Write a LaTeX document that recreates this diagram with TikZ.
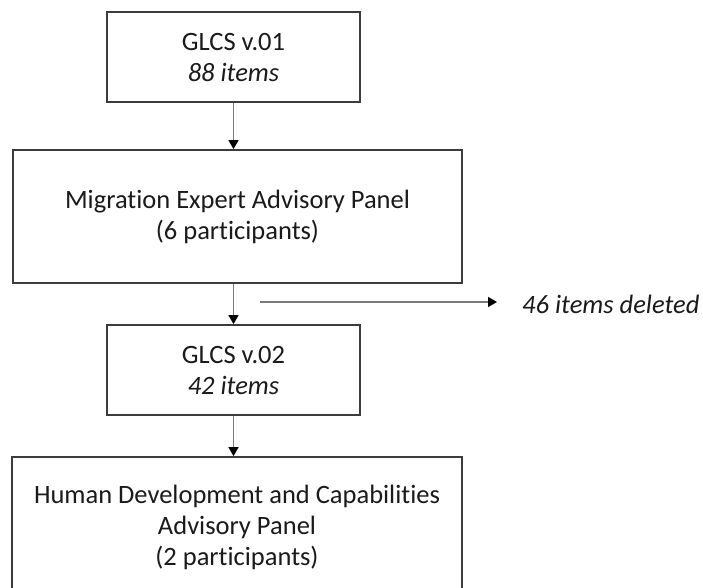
\documentclass[tikz,border=0pt]{standalone}
\usepackage{fontspec}
\setmainfont[RawFeature=-liga]{Carlito}
\usetikzlibrary{arrows.meta}
\definecolor{boxline}{HTML}{3C3C3C}
\definecolor{arrline}{HTML}{7A7A7A}
\definecolor{txt}{HTML}{1A1A1A}
\begin{document}
\begin{tikzpicture}[x=1pt,y=-1pt,
  stagebox/.style={draw=boxline,line width=1.8pt,fill=white,inner sep=0pt,align=center,
    text=txt,font=\fontsize{26.5pt}{31pt}\selectfont},
  flowarrow/.style={draw=arrline,line width=1.3pt,-{Triangle[length=9pt,width=10pt,color=black]}},
  note/.style={text=txt,inner sep=0pt,font=\fontsize{26.5pt}{31pt}\selectfont\itshape}]
\useasboundingbox (0,0) rectangle (703,588);
\clip (0,0) rectangle (703,588);
\node[stagebox,minimum width=253pt,minimum height=90pt] (b1) at (233.5,57) {GLCS v.01\\\textit{88 items}};
\node[stagebox,minimum width=449pt,minimum height=133pt] (b2) at (237.5,216.5) {Migration Expert Advisory Panel\\(6 participants)};
\node[stagebox,minimum width=253pt,minimum height=90pt] (b3) at (233.5,370) {GLCS v.02\\\textit{42 items}};
\node[stagebox,minimum width=450pt,minimum height=140pt] (b4) at (237,527) {Human Development and Capabilities\\Advisory Panel\\(2 participants)};
\node[note,anchor=base west] (del) at (522,313) {46 items deleted};
\coordinate (s) at (260,302);
\draw[flowarrow] (b1.south) -- (b1.south |- b2.north);
\draw[flowarrow] (b2.south -| b3.north) -- (b3.north);
\draw[flowarrow] (b3.south) -- (b3.south |- b4.north);
\draw[flowarrow] (s) -- ([xshift=-25pt]s -| del.west);
\end{tikzpicture}
\end{document}
